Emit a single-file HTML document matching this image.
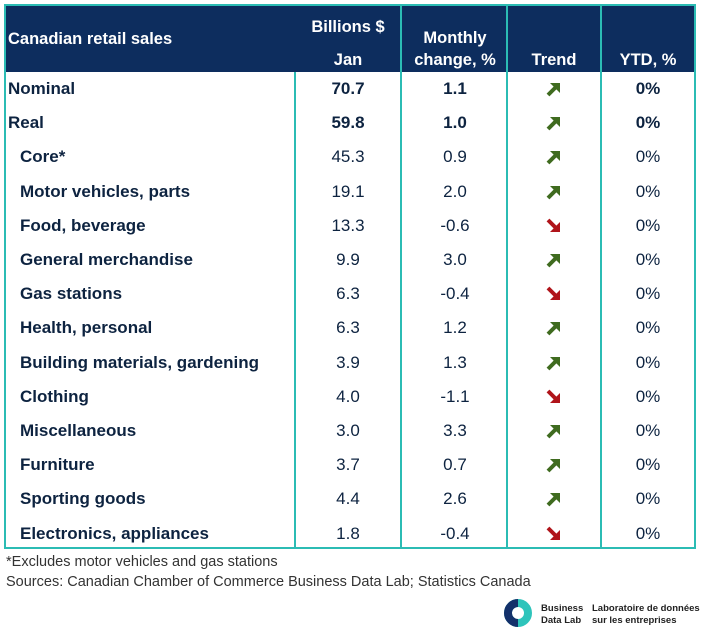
<!DOCTYPE html>
<html><head><style>
body{margin:0;width:701px;height:634px;background:#fff;font-family:"Liberation Sans",Arial,sans-serif;position:relative;overflow:hidden}
.t{position:absolute;left:4px;top:4px;width:692px;height:545px;border:2px solid #2bbcb4;box-sizing:border-box}
.hdr{position:absolute;left:0;top:0;width:688px;height:66px;background:#0d2d5e;z-index:1}
.vl{position:absolute;top:0;width:2px;height:541px;background:#2bbcb4;z-index:2}
.tx{position:absolute;font-size:16.5px;font-weight:bold;color:#fff;white-space:nowrap;z-index:3}
.row{position:absolute;left:0;width:688px;height:34px;font-size:17px;color:#0d2340}
.row span{position:absolute;top:7px;white-space:nowrap}
.c1{left:2px;font-weight:bold}.c1.i{left:14px}
.c2{left:289px;width:106px;text-align:center}
.c3{left:396px;width:106px;text-align:center}
.c5{left:596px;width:92px;text-align:center}
.b{font-weight:bold}
.ar{position:absolute;left:539px;top:9px}
.fn{position:absolute;left:6px;font-size:14.5px;color:#333;white-space:nowrap}
</style></head><body>
<div class="t">
<div class="hdr"></div>
<div class="vl" style="left:288px;top:66px;height:475px"></div>
<div class="vl" style="left:394px"></div>
<div class="vl" style="left:500px"></div>
<div class="vl" style="left:594px"></div>
<div class="tx" style="left:2px;top:24px">Canadian retail sales</div>
<div class="tx" style="left:289px;width:106px;text-align:center;top:12px">Billions $</div>
<div class="tx" style="left:289px;width:106px;text-align:center;top:45px">Jan</div>
<div class="tx" style="left:396px;width:106px;text-align:center;top:23px">Monthly</div>
<div class="tx" style="left:396px;width:106px;text-align:center;top:45px">change, %</div>
<div class="tx" style="left:502px;width:92px;text-align:center;top:45px">Trend</div>
<div class="tx" style="left:596px;width:92px;text-align:center;top:45px">YTD, %</div>
<div id="rows"></div>
</div>
<div class="fn" style="top:554px">*Excludes motor vehicles and gas stations</div>
<div class="fn" style="top:574px">Sources: Canadian Chamber of Commerce Business Data Lab; Statistics Canada</div>
<svg style="position:absolute;left:503px;top:598px" width="30" height="30" viewBox="0 0 30 30"><circle cx="15" cy="15" r="10" fill="none" stroke="#2ec4bb" stroke-width="8"/><path d="M15 5 A10 10 0 0 0 15 25" fill="none" stroke="#13306a" stroke-width="8"/></svg>
<div style="position:absolute;left:541px;top:603px;font-size:9.5px;line-height:12px;color:#222;font-weight:bold;white-space:nowrap">Business<br>Data Lab</div>
<div style="position:absolute;left:592px;top:603px;font-size:9.5px;line-height:12px;color:#222;font-weight:bold;white-space:nowrap">Laboratoire de données<br>sur les entreprises</div>
<script>
var d=[["Nominal","70.7","1.1",1,1],["Real","59.8","1.0",1,1],["Core*","45.3","0.9",1],["Motor vehicles, parts","19.1","2.0",1],["Food, beverage","13.3","-0.6",0],["General merchandise","9.9","3.0",1],["Gas stations","6.3","-0.4",0],["Health, personal","6.3","1.2",1],["Building materials, gardening","3.9","1.3",1],["Clothing","4.0","-1.1",0],["Miscellaneous","3.0","3.3",1],["Furniture","3.7","0.7",1],["Sporting goods","4.4","2.6",1],["Electronics, appliances","1.8","-0.4",0]];
var h="";
d.forEach(function(r,i){var top=66+i*34.2;var b=r[4]?" b":"";
var up='<svg class="ar" width="16" height="16" viewBox="0 0 16 16"><path d="M3 14 L11 6" stroke="#3f6b1f" stroke-width="4" fill="none"/><path d="M5 2 H15 V12 Z" fill="#3f6b1f"/></svg>';
var dn='<svg class="ar" width="16" height="16" viewBox="0 0 16 16"><path d="M3 2 L11 10" stroke="#b0141a" stroke-width="4" fill="none"/><path d="M15 4 V14 H5 Z" fill="#b0141a"/></svg>';
h+='<div class="row" style="top:'+top+'px"><span class="c1'+(r[4]?'':' i')+'">'+r[0]+'</span><span class="c2'+b+'">'+r[1]+'</span><span class="c3'+b+'">'+r[2]+'</span>'+(r[3]?up:dn)+'<span class="c5'+b+'">0%</span></div>';});
document.getElementById("rows").innerHTML=h;
</script>
</body></html>
